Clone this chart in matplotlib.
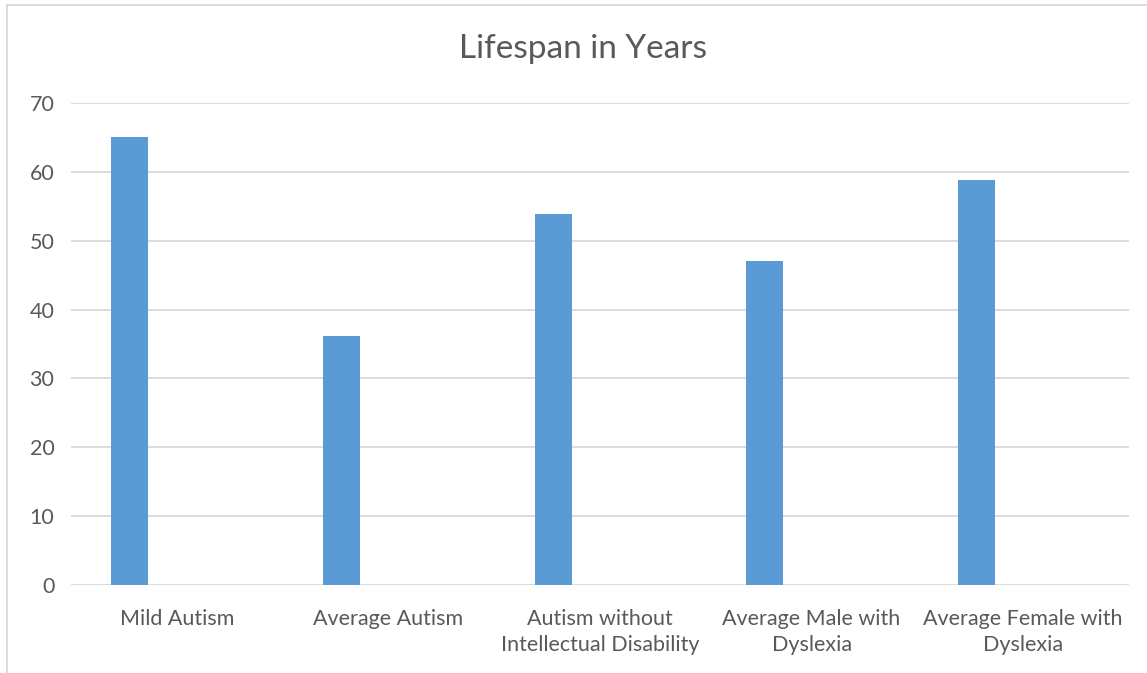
import matplotlib
matplotlib.use("Agg")
import matplotlib.pyplot as plt
import numpy as np

# Lifespan in Years - single series column chart (Excel look)
categories = ["Mild Autism", "Average Autism", "Autism without\nIntellectual Disability",
              "Average Male with\nDyslexia", "Average Female with\nDyslexia"]
lifespan = [65.0, 36.2, 53.9, 47.1, 58.8]
yticks = [0, 10, 20, 30, 40, 50, 60, 70]

plt.rcParams["font.family"] = ["Lato", "DejaVu Sans"]
txt = "#595959"; grid = "#D9D9D9"; bar = "#5B9BD5"

fig = plt.figure(figsize=(11.47, 6.73), dpi=100)
# chart frame
fig.patches.append(plt.Rectangle((7 / 1147, -0.1), 1.2, 1 - 5 / 673 + 0.1, transform=fig.transFigure,
                                 fill=False, edgecolor=grid, lw=1.3))
ax = fig.add_axes([71 / 1147, 88 / 673, (1129 - 71) / 1147, (585 - 103) / 673])

x = np.arange(len(categories))
ax.bar(x - 0.222, lifespan, width=0.175, color=bar, zorder=3)
ax.set_xlim(-0.5, len(categories) - 0.5)
ax.set_ylim(0, 70)
ax.set_yticks(yticks)
ax.set_xticks(x)
ax.set_xticklabels(categories, fontsize=15.5, color=txt, linespacing=1.4)
ax.tick_params(axis="y", length=0, pad=12, labelsize=15.5, labelcolor=txt)
ax.tick_params(axis="x", length=0, pad=17)
ax.grid(axis="y", color=grid, lw=1.3, zorder=0)
for s in ax.spines.values(): s.set_visible(False)

fig.text(583 / 1147, 1 - 49 / 673, "Lifespan in Years", ha="center", va="center", fontsize=24, color=txt)
fig.savefig("out.png", dpi=100)
